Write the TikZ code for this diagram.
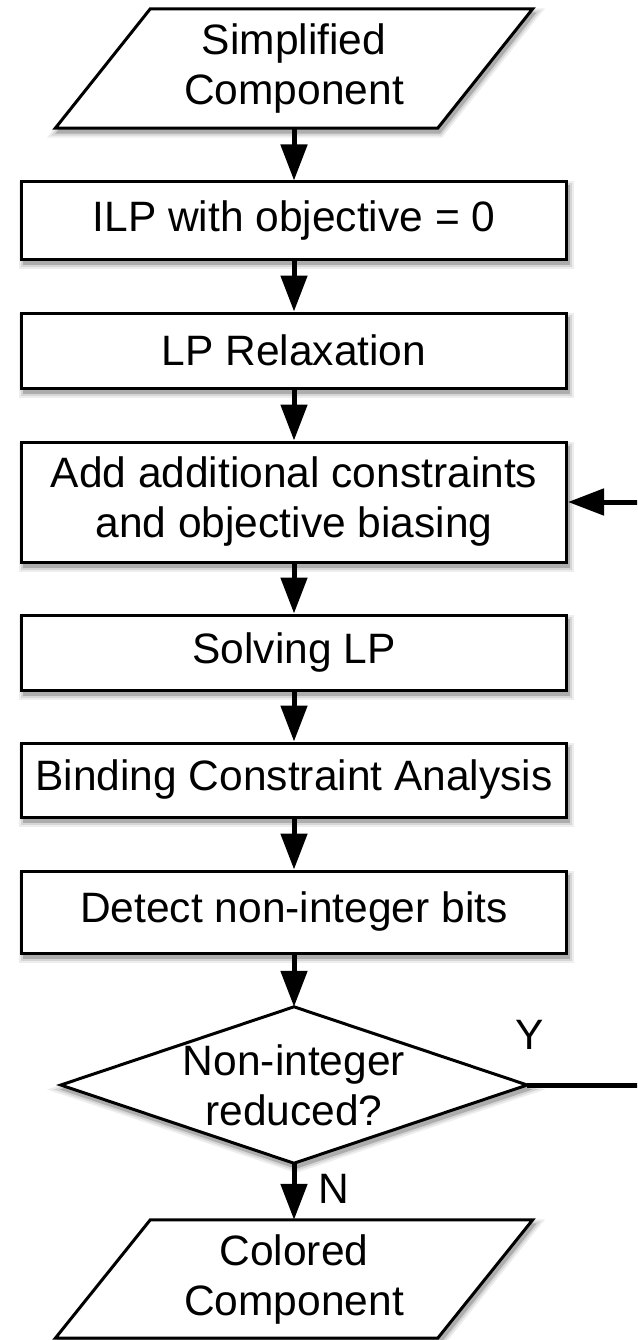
\documentclass[tikz,border=0pt]{standalone}
\usepackage{fontspec}
\setmainfont{Liberation Sans}
\usetikzlibrary{arrows.meta,shadows,calc}

\tikzset{
  txt/.style={font=\fontsize{42.5}{50}\selectfont, align=center, inner sep=0pt, text=black},
  % soft shadow built from three stacked grey layers
  softshadow/.style={
    general shadow={draw=black!7, fill=black!7, line width=10pt,
      shadow xshift=2pt, shadow yshift=-4.5pt},
    general shadow={draw=black!16, fill=black!16, line width=6pt,
      shadow xshift=2pt, shadow yshift=-4.5pt},
    general shadow={draw=black!32, fill=black!32, line width=2pt,
      shadow xshift=2pt, shadow yshift=-4.5pt}},
  stepbox/.style={txt, rectangle, draw=black, line width=3pt, fill=white,
      minimum width=545pt, minimum height=#1, softshadow},
  frame/.style={rectangle, inner sep=0pt, minimum width=#1},
  outline/.style={draw=black, line width=3pt, fill=white, line join=miter, softshadow},
  flow/.style={line width=5pt, draw=black, -{Triangle[width=26pt,length=36pt]}},
}

\begin{document}
\begin{tikzpicture}[x=1pt,y=-1pt]
\useasboundingbox (0,0) rectangle (637,1340);
\clip (0,0) rectangle (637,1340);

% frames for the input / output parallelograms and the decision diamond
\node[frame=477pt, minimum height=119pt] (src)  at (294,68.5) {};
\node[frame=477pt, minimum height=118pt] (sink) at (294,1279) {};
\node[frame=466pt, minimum height=156pt] (dec)  at (294,1085) {};

\draw[outline] ($(src.north west)+(95,0)$) -- (src.north east)
      -- ($(src.south east)+(-95,0)$) -- (src.south west) -- cycle;
\draw[outline] ($(sink.north west)+(95,0)$) -- (sink.north east)
      -- ($(sink.south east)+(-95,0)$) -- (sink.south west) -- cycle;
\draw[outline] (dec.north) -- (dec.east) -- (dec.south) -- (dec.west) -- cycle;

\node[txt] (srctext)  at (src)  {Simplified\\Component};
\node[txt] (sinktext) at (sink) {Colored\\Component};
\node[txt] (dectext)  at (dec)  {Non-integer\\reduced?};

% process steps
\node[stepbox=77pt]  (ilp)    at (294,220.5) {ILP with objective = 0};
\node[stepbox=75pt]  (lp)     at (294,350.5) {LP Relaxation};
\node[stepbox=120pt] (add)    at (294,502)   {Add additional constraints\\and objective biasing};
\node[stepbox=75pt]  (solve)  at (294,652.5) {Solving LP};
\node[stepbox=74pt]  (bind)   at (294,780)   {Binding Constraint Analysis};
\node[stepbox=82pt]  (detect) at (294,912)   {Detect non-integer bits};

% branch labels
\node[txt] (ylab) at (530,1035) {Y};
\node[txt] (nlab) at (334,1189) {N};

% connectors
\draw[flow] (src.south)    -- (ilp.north);
\draw[flow] (ilp.south)    -- (lp.north);
\draw[flow] (lp.south)     -- (add.north);
\draw[flow] (add.south)    -- (solve.north);
\draw[flow] (solve.south)  -- (bind.north);
\draw[flow] (bind.south)   -- (detect.north);
\draw[flow] (detect.south) -- (dec.north);
\draw[flow] (dec.south)    -- (sink.north);

% feedback loop back to the constraint step
\coordinate (fb) at (690,0);
\draw[flow] (dec.east) -- (dec.east -| fb) -- (add.east -| fb) -- (add.east);
\end{tikzpicture}
\end{document}
